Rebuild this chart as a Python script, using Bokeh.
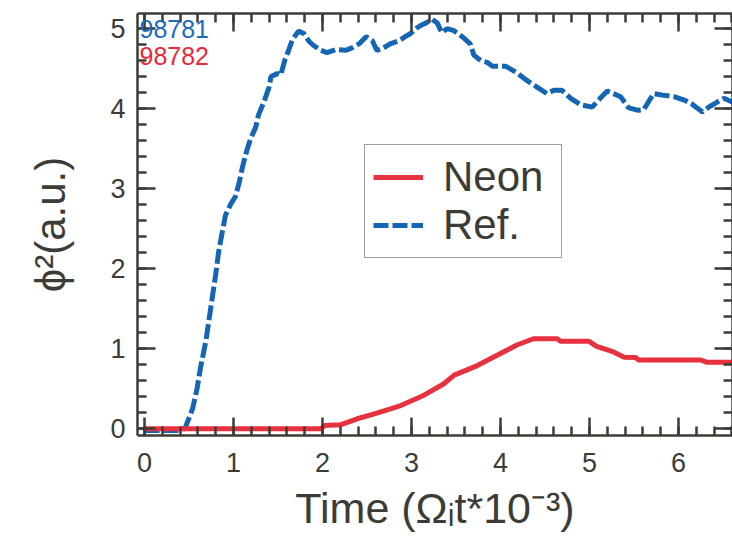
import numpy as np
from bokeh.plotting import figure
from bokeh.models import (Range1d, LinearAxis, FixedTicker, Label, Legend,
                          LegendItem, CustomJSTickFormatter)
from bokeh.embed import file_html
from bokeh.resources import INLINE

# ---------------- data ----------------
ref_x = [0.00, 0.10, 0.20, 0.30, 0.42, 0.46, 0.54, 0.59, 0.63, 0.69, 0.74, 0.80,
         0.83, 0.87, 0.91, 0.97, 1.02, 1.06, 1.10, 1.15, 1.19, 1.25, 1.28, 1.34,
         1.40, 1.42, 1.49, 1.53, 1.58, 1.62, 1.66, 1.73, 1.79, 1.85, 1.90, 1.98,
         2.05, 2.15, 2.26, 2.33, 2.41, 2.49, 2.56, 2.61, 2.67, 2.76, 2.86, 2.93,
         2.99, 3.06, 3.12, 3.16, 3.23, 3.29, 3.34, 3.40, 3.47, 3.57, 3.66, 3.70,
         3.78, 3.85, 3.91, 4.06, 4.17, 4.30, 4.41, 4.52, 4.60, 4.69, 4.79, 4.90,
         5.03, 5.12, 5.20, 5.35, 5.44, 5.55, 5.61, 5.67, 5.72, 5.82, 5.95, 6.08,
         6.15, 6.27, 6.34, 6.43, 6.51, 6.61]
ref_y = [-0.02, -0.02, -0.02, -0.02, -0.02, 0.02, 0.25, 0.50, 0.77, 1.10, 1.48, 1.93,
         2.19, 2.44, 2.67, 2.81, 2.90, 3.06, 3.27, 3.48, 3.62, 3.77, 3.92, 4.08,
         4.27, 4.40, 4.44, 4.42, 4.62, 4.73, 4.86, 4.97, 4.94, 4.84, 4.79, 4.73,
         4.70, 4.74, 4.73, 4.76, 4.81, 4.90, 4.85, 4.73, 4.75, 4.81, 4.85, 4.90,
         4.94, 5.01, 5.05, 5.07, 5.12, 5.07, 4.95, 5.00, 4.98, 4.90, 4.81, 4.67,
         4.60, 4.58, 4.53, 4.53, 4.46, 4.35, 4.27, 4.19, 4.23, 4.23, 4.13, 4.05,
         4.02, 4.13, 4.22, 4.15, 4.01, 3.98, 3.99, 4.10, 4.19, 4.17, 4.15, 4.10,
         4.06, 3.96, 4.02, 4.08, 4.13, 4.08]

neon_x = [0.00, 1.98, 2.02, 2.20, 2.39, 2.61, 2.88, 3.14, 3.36, 3.48, 3.74, 4.00,
          4.19, 4.37, 4.64, 4.67, 4.99, 5.08, 5.27, 5.39, 5.52, 5.55, 6.25, 6.32, 6.60]
neon_y = [0.00, 0.00, 0.04, 0.05, 0.125, 0.195, 0.29, 0.42, 0.56, 0.67, 0.79, 0.94,
          1.05, 1.125, 1.125, 1.095, 1.095, 1.03, 0.96, 0.895, 0.89, 0.86, 0.86, 0.83, 0.83]

x_ticks = [0, 1, 2, 3, 4, 5, 6]
y_ticks = [0, 1, 2, 3, 4, 5]
x_minor = [round(v * 0.2, 2) for v in range(0, 34)]
y_minor = [round(v * 0.2, 2) for v in range(0, 27)]
shot_labels = ["98781", "98782"]
legend_labels = ["Neon", "Ref."]
x_title = "Time (\u03a9\u1d62t*10\u207b\u00b3)"
y_title = "\u03d5\u00b2(a.u.)"

# ---------------- style ----------------
AX = "#3c3c37"
RED = "#e8313f"
BLUE = "#1565b5"
SANS = "Liberation Sans"

p = figure(width=732, height=538, output_backend="svg", toolbar_location=None,
           x_range=Range1d(-0.079, 6.607), y_range=Range1d(-0.084, 5.19),
           min_border_left=137, min_border_right=0, min_border_top=13,
           min_border_bottom=103, x_axis_location=None, y_axis_location=None)
p.outline_line_color = None
p.xgrid.visible = False
p.ygrid.visible = False
p.background_fill_color = "white"
p.border_fill_color = "white"


def style_axis(ax, ticks, minor, labels=True):
    ax.ticker = FixedTicker(ticks=ticks, minor_ticks=minor)
    ax.axis_line_color = AX
    ax.axis_line_width = 2.5
    ax.major_tick_line_color = AX
    ax.major_tick_line_width = 2.5
    ax.minor_tick_line_color = AX
    ax.minor_tick_line_width = 2.5
    ax.major_tick_in = 18
    ax.major_tick_out = 0
    ax.minor_tick_in = 9
    ax.minor_tick_out = 0
    ax.major_label_text_font = SANS
    ax.major_label_text_color = AX
    ax.major_label_text_font_size = "27px"
    ax.axis_label_text_font = SANS
    ax.axis_label_text_font_style = "normal"
    ax.axis_label_text_color = AX
    if not labels:
        ax.formatter = CustomJSTickFormatter(code="return ''")
        ax.major_label_text_color = None
        ax.major_label_standoff = 0


xb = LinearAxis(axis_label=x_title)
style_axis(xb, x_ticks, x_minor)
xb.major_label_standoff = 17
xb.axis_label_standoff = 9
xb.axis_label_text_font_size = "43px"
p.add_layout(xb, "below")

yl = LinearAxis(axis_label=y_title)
style_axis(yl, y_ticks, y_minor)
yl.major_label_standoff = 12
yl.axis_label_standoff = 33
yl.axis_label_text_font_size = "42px"
p.add_layout(yl, "left")

xt = LinearAxis()
style_axis(xt, x_ticks, x_minor, labels=False)
p.add_layout(xt, "above")

yr = LinearAxis()
style_axis(yr, y_ticks, y_minor, labels=False)
p.add_layout(yr, "right")

# ---------------- curves ----------------
r_ref = p.line(ref_x, ref_y, line_color=BLUE, line_width=5, line_dash="15 4")
r_neon = p.line(neon_x, neon_y, line_color=RED, line_width=5)

legend = Legend(items=[LegendItem(label=legend_labels[0], renderers=[r_neon]),
                       LegendItem(label=legend_labels[1], renderers=[r_ref])],
                location=(227, 177))
legend.label_text_font = SANS
legend.label_text_font_size = "42px"
legend.label_text_color = AX
legend.glyph_width = 50
legend.glyph_height = 20
legend.label_standoff = 20
legend.label_width = 110
legend.padding = 8
legend.spacing = 0
legend.margin = 0
legend.border_line_color = AX
legend.border_line_width = 1.5
legend.background_fill_color = "white"
legend.background_fill_alpha = 1.0
p.add_layout(legend)

# shot numbers (inside the frame, top-left)
for txt, fy, col in [(shot_labels[0], 407, "#1a6bbf"), (shot_labels[1], 380, "#e8283c")]:
    p.add_layout(Label(x=2, y=fy, x_units="screen", y_units="screen", text=txt,
                       text_font=SANS, text_font_size="25px", text_color=col,
                       text_align="left", text_baseline="alphabetic"))

open("out.html", "w").write(file_html(p, INLINE))
